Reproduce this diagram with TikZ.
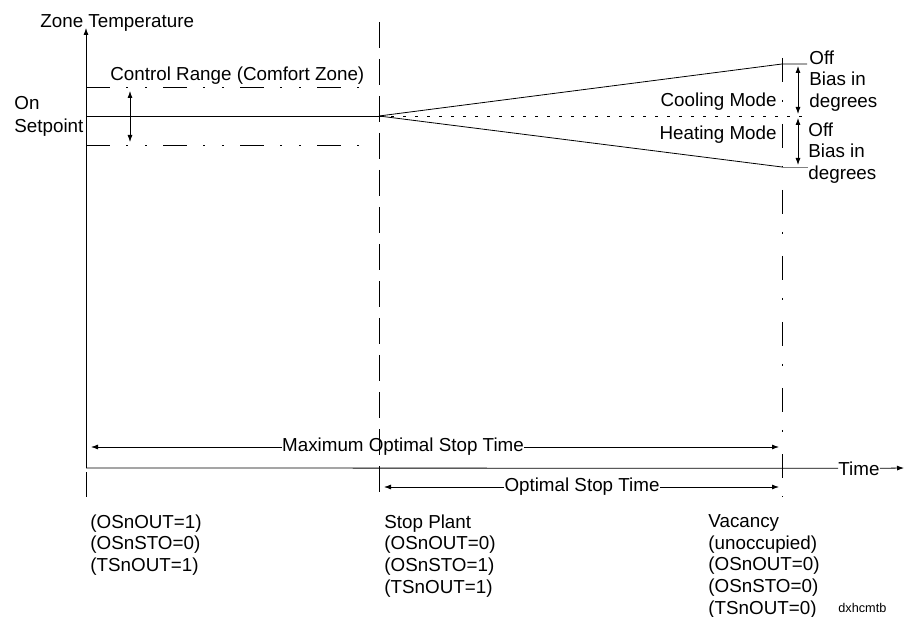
\documentclass[tikz,border=0pt]{standalone}
\usepackage{fontspec}
\setmainfont{Liberation Sans}
\usetikzlibrary{arrows.meta}

\begin{document}
\begin{tikzpicture}[x=1pt,y=-1pt,line width=0.8pt,
  font=\fontsize{18.8}{21.8}\selectfont,
  txt/.style={inner sep=0pt},
  col/.style={inner sep=0pt,align=left,anchor=north west},
  tip/.style={-{Latex[length=7pt,width=5pt]}},
  both/.style={{Latex[length=7pt,width=5pt]}-{Latex[length=7pt,width=5pt]}},
  longdash/.style={dash pattern=on 26pt off 11pt},
  dashdot/.style={dash pattern=on 24pt off 18pt on 2pt off 22pt},
  dashdotdot/.style={dash pattern=on 24pt off 16pt on 2pt off 17pt on 2pt off 16pt}]
\useasboundingbox (0,0) rectangle (905,617);

% axes
\coordinate (o) at (86,468);
\coordinate (ytop) at (86,28);
\coordinate (xend) at (904,468);
\node[txt,anchor=base west] (ylab) at (40,28) {Zone Temperature};
\node[txt,anchor=base west] (time) at (838,475) {Time};
\draw[tip] (o) -- (ytop);
\draw (o) -- (time.west);
\draw[tip] (time.east) -- (xend);

% control range
\coordinate (spl) at (86,116);
\coordinate (sp) at (379,116);
\coordinate (hil) at (86,87);
\coordinate (hir) at (362,87);
\coordinate (lol) at (86,145);
\coordinate (lor) at (362,145);
\coordinate (rtop) at (130,91);
\coordinate (rbot) at (130,142);
\draw (spl) -- (sp);
\draw[dashdotdot] (hil) -- (hir);
\draw[dashdotdot] (lol) -- (lor);
\draw[both] (rtop) -- (rbot);
\node[txt,anchor=base west] (range) at (110,81) {Control Range (Comfort Zone)};
\node[txt,anchor=base west] (on) at (14,110) {On};
\node[txt,anchor=base west] (setp) at (14,133) {Setpoint};

% stop lines
\coordinate (stoptop) at (379,22);
\coordinate (stopbot) at (379,497);
\coordinate (vactop) at (782,58);
\coordinate (vacbot) at (782,497);
\coordinate (t1) at (86,472);
\coordinate (t2) at (86,497);
\draw[longdash] (stoptop) -- (stopbot);
\draw[dashdot] (vactop) -- (vacbot);
\draw (t1) -- (t2);

% cooling / heating
\coordinate (cool) at (782,64);
\coordinate (heat) at (782,167);
\coordinate (coolr) at (807,64);
\coordinate (heatr) at (808,167);
\coordinate (dotr) at (805,116);
\draw (sp) -- (cool) -- (coolr);
\draw (sp) -- (heat);
\draw[gray] (heat) -- (heatr);
\draw[dash pattern=on 3pt off 9pt] (sp) -- (dotr);
\coordinate (c1) at (798,66);
\coordinate (c2) at (798,114);
\coordinate (h1) at (798,118);
\coordinate (h2) at (798,165);
\draw[both] (c1) -- (c2);
\draw[both] (h1) -- (h2);
\node[txt,anchor=base east] (cm) at (777,107) {Cooling Mode};
\node[txt,anchor=base east] (hm) at (777,140) {Heating Mode};
\node[col] (offc) at (809,50) {Off\\Bias in\\degrees};
\node[col] (offh) at (808,122) {Off\\Bias in\\degrees};

% time spans
\node[txt] (maxl) at (403,447) {Maximum Optimal Stop Time};
\coordinate (max1) at (91,447);
\coordinate (max2) at (779,447);
\draw[tip] (maxl.west) -- (max1);
\draw[tip] (maxl.east) -- (max2);
\node[txt] (optl) at (582,487) {Optimal Stop Time};
\coordinate (opt1) at (384,487);
\coordinate (opt2) at (779,487);
\draw[tip] (optl.west) -- (opt1);
\draw[tip] (optl.east) -- (opt2);

% states
\node[col] (s1) at (90,514) {(OSnOUT=1)\\(OSnSTO=0)\\(TSnOUT=1)};
\node[col] (s2) at (384,514) {Stop Plant\\(OSnOUT=0)\\(OSnSTO=1)\\(TSnOUT=1)};
\node[col] (s3) at (708,514) {Vacancy\\(unoccupied)\\(OSnOUT=0)\\(OSnSTO=0)\\(TSnOUT=0)};
\node[txt,anchor=base west,font=\fontsize{12.7}{15}\selectfont] (id) at (838,612) {dxhcmtb};
\end{tikzpicture}
\end{document}
